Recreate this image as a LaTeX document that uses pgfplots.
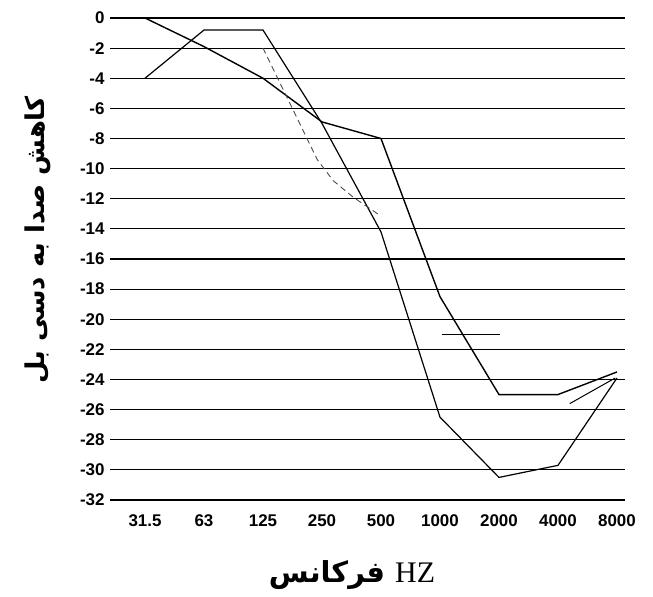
\documentclass[border=0pt]{standalone}
\usepackage{fontspec}
\usepackage{pgfplots}
\pgfplotsset{compat=1.18}
\setmainfont{Liberation Serif}
\newfontfamily\tickfont{Liberation Sans}
\newfontfamily\arabicfont[Script=Arabic]{DejaVu Sans}
\TeXXeTstate=1
\begin{document}
\begin{tikzpicture}[x=1bp,y=1bp]
\useasboundingbox (0,0) rectangle (653,597);
\begin{axis}[at={(110bp,97bp)}, anchor=south west, scale only axis,
  width=515bp, height=482bp,
  xmin=-0.593, xmax=8.136, ymin=-32, ymax=0,
  axis line style={draw=none}, major tick length=0pt,
  ytick={0,-2,...,-32},
  xtick={0,...,8},
  xticklabels={31.5,63,125,250,500,1000,2000,4000,8000},
  ymajorgrids, grid style={black, line width=1.1bp},
  tick label style={font=\tickfont\bfseries\fontsize{17}{17}\selectfont},
  yticklabel style={xshift=-2bp},
  xticklabel style={yshift=-11bp},
  /pgf/number format/assume math mode=true,
  clip=false]
\addplot[black, line width=1.2bp] coordinates {(0,-4)(1,-0.8)(2,-0.8)(3,-7.0)(4,-14.2)(5,-26.5)(6,-30.5)(7,-29.7)(8,-23.9)};
\addplot[black, line width=1.4bp] coordinates {(0,0)(1,-1.9)(2,-4)(3,-6.9)(4,-8)(5,-18.5)(6,-25)(7,-25)(8,-23.5)};
\addplot[black!70, line width=0.9bp, dash pattern=on 6bp off 4bp] coordinates {(2,-2)(2.51,-6.1)(2.92,-9.4)(3.19,-10.8)(3.53,-11.9)(3.98,-13.1)};
\addplot[black, line width=1bp] coordinates {(5.03,-21)(6.02,-21)};
\addplot[black, line width=1bp] coordinates {(7.2,-25.6)(7.97,-23.9)};
\end{axis}
\node[rotate=90] at (38,357) {\arabicfont\bfseries\fontsize{26}{30}\selectfont\beginR کاهش صدا به دسی بل\endR};
\node at (352,22) {\arabicfont\bfseries\fontsize{29}{32}\selectfont\beginR فرکانس\endR\ \fontsize{30}{32}\selectfont\rmfamily\mdseries HZ};
\end{tikzpicture}
\end{document}
